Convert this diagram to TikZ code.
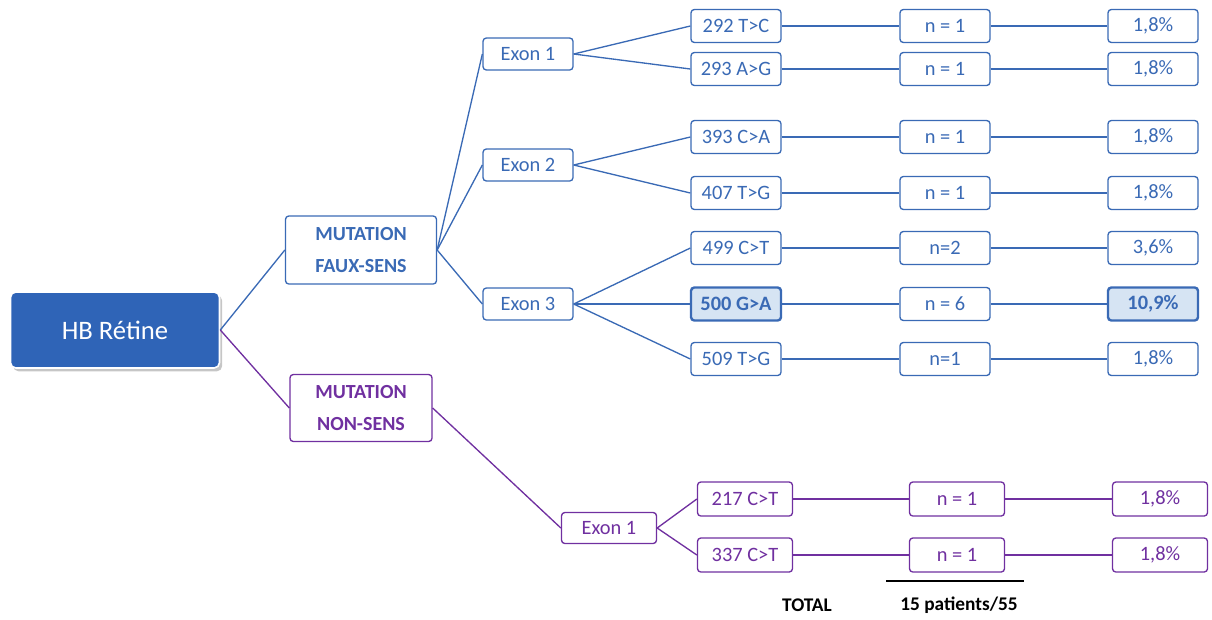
\documentclass[tikz,border=0pt]{standalone}
\usepackage{fontspec}
\setmainfont{Carlito}
\usetikzlibrary{shadows}
\definecolor{myblue}{RGB}{58,106,181}
\definecolor{hbblue}{RGB}{47,100,183}
\definecolor{mypurple}{RGB}{112,48,160}
\definecolor{hlfill}{RGB}{214,228,243}
\tikzset{
  box/.style={rounded corners=2.5pt, line width=1pt, inner sep=0pt, font=\fontsize{15.3}{18}\selectfont},
  bbox/.style={box, draw=myblue, text=myblue, fill=white, minimum width=67.5pt, minimum height=24.75pt},
  hbox/.style={bbox, fill=hlfill, line width=1.8pt, font=\fontsize{15.3}{18}\selectfont\bfseries},
  pbox/.style={box, draw=mypurple, text=mypurple, fill=white, minimum width=71.25pt, minimum height=25.5pt},
  pexon/.style={pbox, minimum height=23.25pt},
  bexon/.style={bbox, minimum height=24pt},
  mutbox/.style={box, align=center, font=\fontsize{15}{24}\selectfont\bfseries},
  bline/.style={draw=myblue, line width=1pt},
  pline/.style={draw=mypurple, line width=1pt},
  total/.style={font=\fontsize{14.5}{16}\selectfont\bfseries, text=black, inner sep=0pt}
}
\begin{document}
\begin{tikzpicture}[x=0.75pt,y=-0.75pt]
\useasboundingbox (0,0) rectangle (1212,619);
% root
\node[box, fill=hbblue, draw=white, line width=1.2pt, text=white, rounded corners=4pt,
  minimum width=156.75pt, minimum height=57pt, font=\fontsize{20}{24}\selectfont,
  drop shadow={opacity=0.45, shadow xshift=2pt, shadow yshift=-2.5pt}] (hb) at (115,330) {HB Rétine};
% level 1
\node[mutbox, draw=myblue, text=myblue, minimum width=113.25pt, minimum height=51pt] (fs) at (361,250) {MUTATION\\FAUX-SENS};
\node[mutbox, draw=mypurple, text=mypurple, minimum width=106.5pt, minimum height=50.25pt] (ns) at (361,408) {MUTATION\\NON-SENS};
% exons blue
\node[bexon] (e1) at (528,54) {Exon 1};
\node[bexon] (e2) at (528,165) {Exon 2};
\node[bexon] (e3) at (528,304) {Exon 3};
% mutations blue
\node[bbox] (m1) at (736,26) {292 T>C};
\node[bbox] (m2) at (736,69) {293 A>G};
\node[bbox] (m3) at (736,137) {393 C>A};
\node[bbox] (m4) at (736,193) {407 T>G};
\node[bbox] (m5) at (736,248) {499 C>T};
\node[hbox] (m6) at (736,304) {500 G>A};
\node[bbox] (m7) at (736,359) {509 T>G};
% counts blue
\node[bbox] (n1) at (945,26) {n = 1};
\node[bbox] (n2) at (945,69) {n = 1};
\node[bbox] (n3) at (945,137) {n = 1};
\node[bbox] (n4) at (945,193) {n = 1};
\node[bbox] (n5) at (945,248) {n=2};
\node[bbox] (n6) at (945,304) {n = 6};
\node[bbox] (n7) at (945,359) {n=1};
% percentages blue
\node[bbox] (p1) at (1153,26) {1,8\%};
\node[bbox] (p2) at (1153,69) {1,8\%};
\node[bbox] (p3) at (1153,137) {1,8\%};
\node[bbox] (p4) at (1153,193) {1,8\%};
\node[bbox] (p5) at (1153,248) {3,6\%};
\node[hbox] (p6) at (1153,304) {10,9\%};
\node[bbox] (p7) at (1153,359) {1,8\%};
% purple branch
\node[pexon] (pe1) at (609,528) {Exon 1};
\node[pbox] (pm1) at (745,499) {217 C>T};
\node[pbox] (pm2) at (745,555) {337 C>T};
\node[pbox] (pn1) at (957,499) {n = 1};
\node[pbox] (pn2) at (957,555) {n = 1};
\node[pbox] (pp1) at (1160,499) {1,8\%};
\node[pbox] (pp2) at (1160,555) {1,8\%};
% total
\coordinate (tl) at (886,581);
\coordinate (tr) at (1024,581);
\draw[line width=1pt, black] (tl) -- (tr);
\node[total] (tot) at (807,605) {TOTAL};
\node[total] (pat) at (959,605) {15 patients/55};
% connectors
\path[bline] (hb.east) -- (fs.west);
\path[pline] (hb.east) -- (ns.west);
\foreach \e in {e1,e2,e3} \path[bline] (fs.east) -- (\e.west);
\path[bline] (e1.east) -- (m1.west);
\path[bline] (e1.east) -- (m2.west);
\path[bline] (e2.east) -- (m3.west);
\path[bline] (e2.east) -- (m4.west);
\path[bline] (e3.east) -- (m5.west);
\path[bline] (e3.east) -- (m6.west);
\path[bline] (e3.east) -- (m7.west);
\foreach \i in {1,...,7} {
  \path[bline] (m\i.east) -- (n\i.west);
  \path[bline] (n\i.east) -- (p\i.west);
}
\path[pline] (ns.east) -- (pe1.west);
\path[pline] (pe1.east) -- (pm1.west);
\path[pline] (pe1.east) -- (pm2.west);
\foreach \i in {1,2} {
  \path[pline] (pm\i.east) -- (pn\i.west);
  \path[pline] (pn\i.east) -- (pp\i.west);
}
\end{tikzpicture}
\end{document}
